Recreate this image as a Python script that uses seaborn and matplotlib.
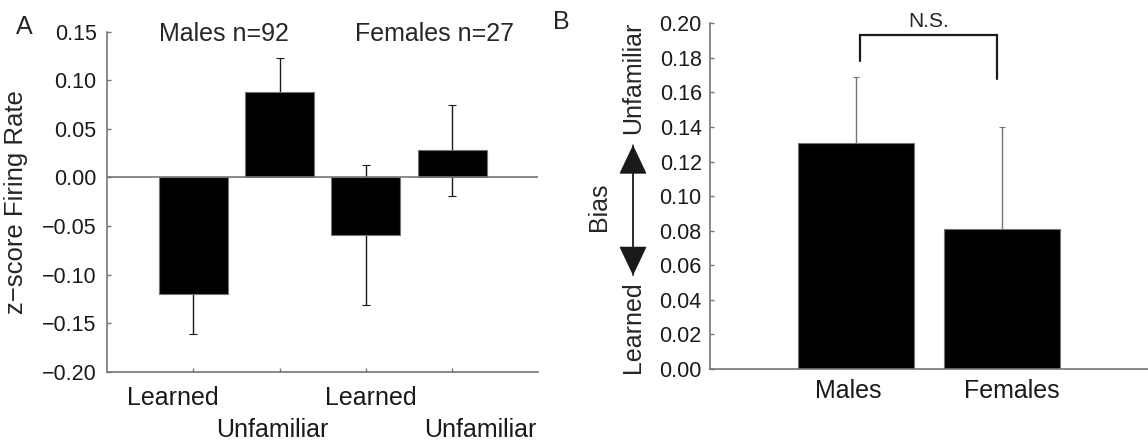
import numpy as np
import pandas as pd
import matplotlib
matplotlib.use("Agg")
import matplotlib.pyplot as plt
import matplotlib.transforms as mtransforms
from matplotlib.patches import FancyArrowPatch
import seaborn as sns

sns.set_theme(style="white")
plt.rcParams['font.family'] = ['Liberation Sans', 'DejaVu Sans']

# ---- data ----
a_conditions = ["M-Learned", "M-Unfamiliar", "F-Learned", "F-Unfamiliar"]
a_ticklabels = ["Learned", "Unfamiliar", "Learned", "Unfamiliar"]
a_means = [-0.120, 0.088, -0.059, 0.028]
a_errs = [0.041, 0.035, 0.072, 0.047]
a_yticks = [-0.20, -0.15, -0.10, -0.05, 0.00, 0.05, 0.10, 0.15]
a_groups = ["Males n=92", "Females n=27"]

b_groups = ["Males", "Females"]
b_means = [0.131, 0.081]
b_errs = [0.038, 0.059]
b_yticks = [0.00, 0.02, 0.04, 0.06, 0.08, 0.10, 0.12, 0.14, 0.16, 0.18, 0.20]

GRAY = "#757575"
INK = "#1a1a1a"

fig = plt.figure(figsize=(11.48, 4.43), dpi=100)
axA = fig.add_axes([0.0932, 0.1610, 0.3757, 0.7674])
axB = fig.add_axes([0.6185, 0.1670, 0.3815, 0.7804])


def shift_labels(labels, offsets):
    for lab, (dx, dy) in zip(labels, offsets):
        lab.set_transform(lab.get_transform() +
                          mtransforms.ScaledTranslation(dx / 72, dy / 72, fig.dpi_scale_trans))


# ---- panel A ----
dfA = pd.DataFrame({"cond": a_conditions, "val": a_means})
sns.barplot(data=dfA, x="cond", y="val", ax=axA, color="black", width=0.8,
            edgecolor=GRAY, linewidth=0.8, saturation=1, errorbar=None, zorder=2)
xsA = [p.get_x() + p.get_width() / 2 for p in axA.patches]
axA.errorbar(xsA, a_means, yerr=a_errs, fmt="none", ecolor=INK,
             elinewidth=1.0, capsize=3, capthick=0.8, zorder=1)
axA.axhline(0, color=GRAY, lw=1.2, zorder=2.5)
axA.set_xlim(-1, 4)
axA.set_ylim(-0.2, 0.15)
axA.set_yticks(a_yticks)
axA.set_yticklabels([f"{t:.2f}".replace("-", "\u2212") for t in a_yticks], fontsize=15.5)
axA.set_xticks(range(4))
axA.set_xticklabels(a_ticklabels, fontsize=18)
axA.set_xlabel("")
axA.set_ylabel("")
for s in ["top", "right"]:
    axA.spines[s].set_visible(False)
for s in ["left", "bottom"]:
    axA.spines[s].set_color(GRAY)
    axA.spines[s].set_linewidth(1.2)
axA.tick_params(axis="both", direction="in", length=3, width=1, color=GRAY,
                colors=INK, left=True, bottom=True)
axA.tick_params(axis="x", pad=10.5)
axA.tick_params(axis="y", pad=7.5)
shift_labels(axA.get_xticklabels(), [(-14.5, 0), (-5, -23), (3.6, 0), (20.5, -23)])
axA.text(-0.21, 0.5, "z\u2212score Firing Rate", transform=axA.transAxes,
         rotation=90, ha="center", va="center", fontsize=18.5)
axA.text(0.35, 0.1476, a_groups[0], ha="center", va="center", fontsize=18)
axA.text(2.795, 0.1476, a_groups[1], ha="center", va="center", fontsize=18)

# ---- panel B ----
dfB = pd.DataFrame({"group": b_groups, "val": b_means})
sns.barplot(data=dfB, x="group", y="val", ax=axB, color="black", width=0.8,
            edgecolor=GRAY, linewidth=0.8, saturation=1, errorbar=None, zorder=2)
xsB = [p.get_x() + p.get_width() / 2 for p in axB.patches]
axB.errorbar(xsB, b_means, yerr=b_errs, fmt="none", ecolor=GRAY,
             elinewidth=1.0, capsize=2, capthick=0.8, zorder=1)
axB.set_xlim(-1, 2)
axB.set_ylim(0, 0.2)
axB.set_yticks(b_yticks)
axB.set_yticklabels([f"{t:.2f}" for t in b_yticks], fontsize=15.5)
axB.set_xticks([0, 1])
axB.set_xticklabels(b_groups, fontsize=18)
axB.set_xlabel("")
axB.set_ylabel("")
for s in ["top", "right"]:
    axB.spines[s].set_visible(False)
for s in ["left", "bottom"]:
    axB.spines[s].set_color(GRAY)
    axB.spines[s].set_linewidth(1.2)
axB.tick_params(axis="y", direction="in", length=3, width=1, color=GRAY,
                colors=INK, left=True, pad=6)
axB.tick_params(axis="x", length=0, pad=7.5, colors=INK)
shift_labels(axB.get_xticklabels(), [(-5.8, 0), (7.2, 0)])

# N.S. bracket
axB.plot([0.03, 0.03, 0.964, 0.964], [0.178, 0.1934, 0.1934, 0.1676],
         color=INK, lw=1.6, clip_on=False, solid_joinstyle="miter")
axB.text(0.497, 0.2009, "N.S.", ha="center", va="center",
         fontsize=15, clip_on=False)

# y label pieces for B
fig.text(0.5514, 0.262, "Learned", rotation=90, ha="center", va="center", fontsize=18)
fig.text(0.5514, 0.824, "Unfamiliar", rotation=90, ha="center", va="center", fontsize=18)
fig.text(0.5221, 0.533, "Bias", rotation=90, ha="center", va="center", fontsize=18)
for start, end in [((0.5514, 0.372), (0.5514, 0.679)), ((0.5514, 0.679), (0.5514, 0.372))]:
    fig.patches.append(FancyArrowPatch(
        start, end, transform=fig.transFigure,
        arrowstyle="-|>,head_length=0.95,head_width=0.45", color=INK, lw=1.0,
        mutation_scale=20))

# panel letters
fig.text(0.0209, 0.939, "A", ha="center", va="center", fontsize=18)
fig.text(0.4887, 0.950, "B", ha="center", va="center", fontsize=18)

fig.savefig("out.png", dpi=100)
